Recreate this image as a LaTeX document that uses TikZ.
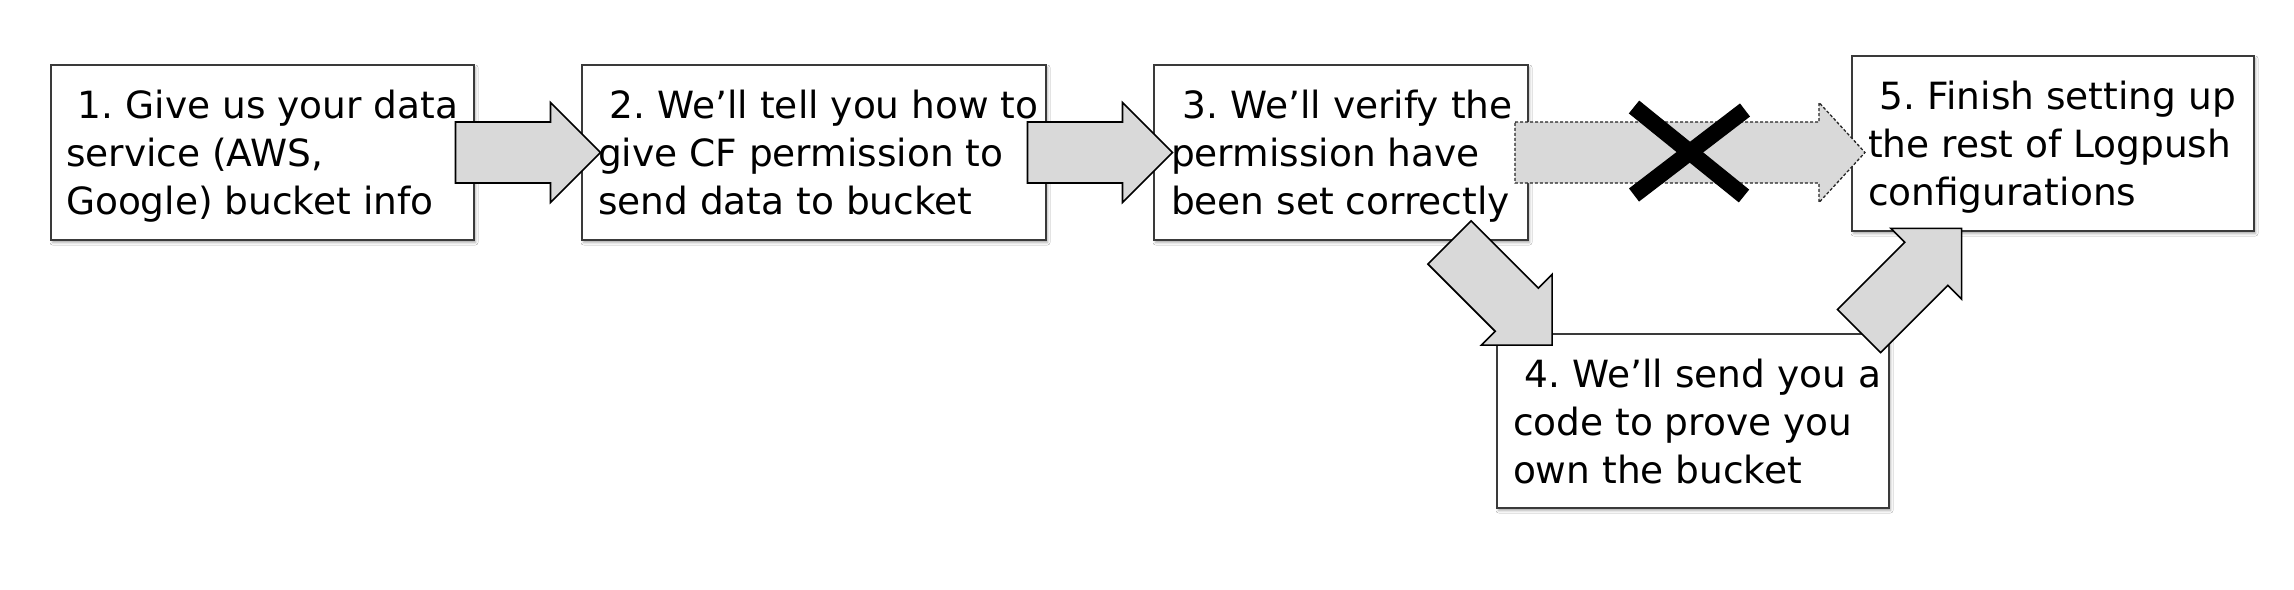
\documentclass[tikz,border=0pt]{standalone}
\usepackage{fontspec}
\setmainfont{DejaVu Sans}
\usetikzlibrary{calc,shadows.blur}
\definecolor{afill}{HTML}{D9D9D9}
\definecolor{edgec}{HTML}{3A3A3A}
\tikzset{
  box/.style={draw=edgec, line width=1.4pt, fill=white, rectangle, inner sep=0pt, outer sep=0pt,
    anchor=north west,
    blur shadow={shadow xshift=1.5pt, shadow yshift=-2.5pt, shadow blur radius=2.5pt, shadow opacity=35}},
  txt/.style={anchor=north west, inner sep=0pt, outer sep=0pt, align=left,
    font=\fontsize{37.5}{48}\selectfont\frenchspacing},
  barrowline/.style={draw=black, line width=1.6pt, fill=afill, line join=miter},
  dottedline/.style={draw=black!85, line width=1.3pt, fill=afill, dash pattern=on 3pt off 2pt},
  xline/.style={draw=black, line width=16.5pt, line cap=butt},
  pics/barrow/.style={code={
    \path[barrowline] (-72.5,-30.5) -- (22.5,-30.5) -- (22.5,-50) -- (72.5,0)
      -- (22.5,50) -- (22.5,30.5) -- (-72.5,30.5) -- cycle;}},
}
\begin{document}
\begin{tikzpicture}[x=1pt,y=-1pt]
\useasboundingbox (0,0) rectangle (2294,589);
\fill[white] (0,0) rectangle (2294,589);

% boxes
\node[box, minimum width=423pt, minimum height=175pt] (b1) at (51,65) {};
\node[box, minimum width=464pt, minimum height=175pt] (b2) at (582,65) {};
\node[box, minimum width=374pt, minimum height=175pt] (b3) at (1154,65) {};
\node[box, minimum width=392pt, minimum height=174pt] (b4) at (1497,334) {};
\node[box, minimum width=402pt, minimum height=175pt] (b5) at (1852,56) {};

% block arrows
\pic (a1) at ($(b1.east)!0.5!(b2.west)$) {barrow};
\pic (a2) at ($(b2.east)!0.5!(b3.west)$) {barrow};
\pic[rotate=-45] (a3) at (1500.8,293.8) {barrow};
\pic[rotate=45] (a4) at (1910.3,279.7) {barrow};

% dotted (cancelled) arrow
\coordinate (dc) at ($(b3.east)!0.5!(b5.west |- b3.east)$);
\path[dottedline, shift={(dc)}] (-175,-30.5) -- (129,-30.5) -- (129,-50) -- (175,0)
  -- (129,50) -- (129,30.5) -- (-175,30.5) -- cycle;

% the cross
\coordinate (x1) at (1634,107);
\coordinate (x2) at (1744,196);
\coordinate (x3) at (1745,110);
\coordinate (x4) at (1634,195);
\draw[xline] (x1) -- (x2);
\draw[xline] (x3) -- (x4);

% texts
\node[txt] (t1) at ($(b1.north west)+(15,19.4)$)
  {\strut\ 1. Give us your data\\\strut service (AWS,\\\strut Google) bucket info};
\node[txt] (t2) at ($(b2.north west)+(16,19.4)$)
  {\strut\ 2. We’ll tell you how to\\\strut give CF permission to\\\strut send data to bucket};
\node[txt] (t3) at ($(b3.north west)+(17,19.4)$)
  {\strut\ 3. We’ll verify the\\\strut permission have\\\strut been set correctly};
\node[txt] (t4) at ($(b4.north west)+(16,19.4)$)
  {\strut\ 4. We’ll send you a\\\strut code to prove you\\\strut own the bucket};
\node[txt] (t5) at ($(b5.north west)+(16,19.4)$)
  {\strut\ 5. Finish setting up\\\strut the rest of Logpush\\\strut configurations};
\end{tikzpicture}
\end{document}
